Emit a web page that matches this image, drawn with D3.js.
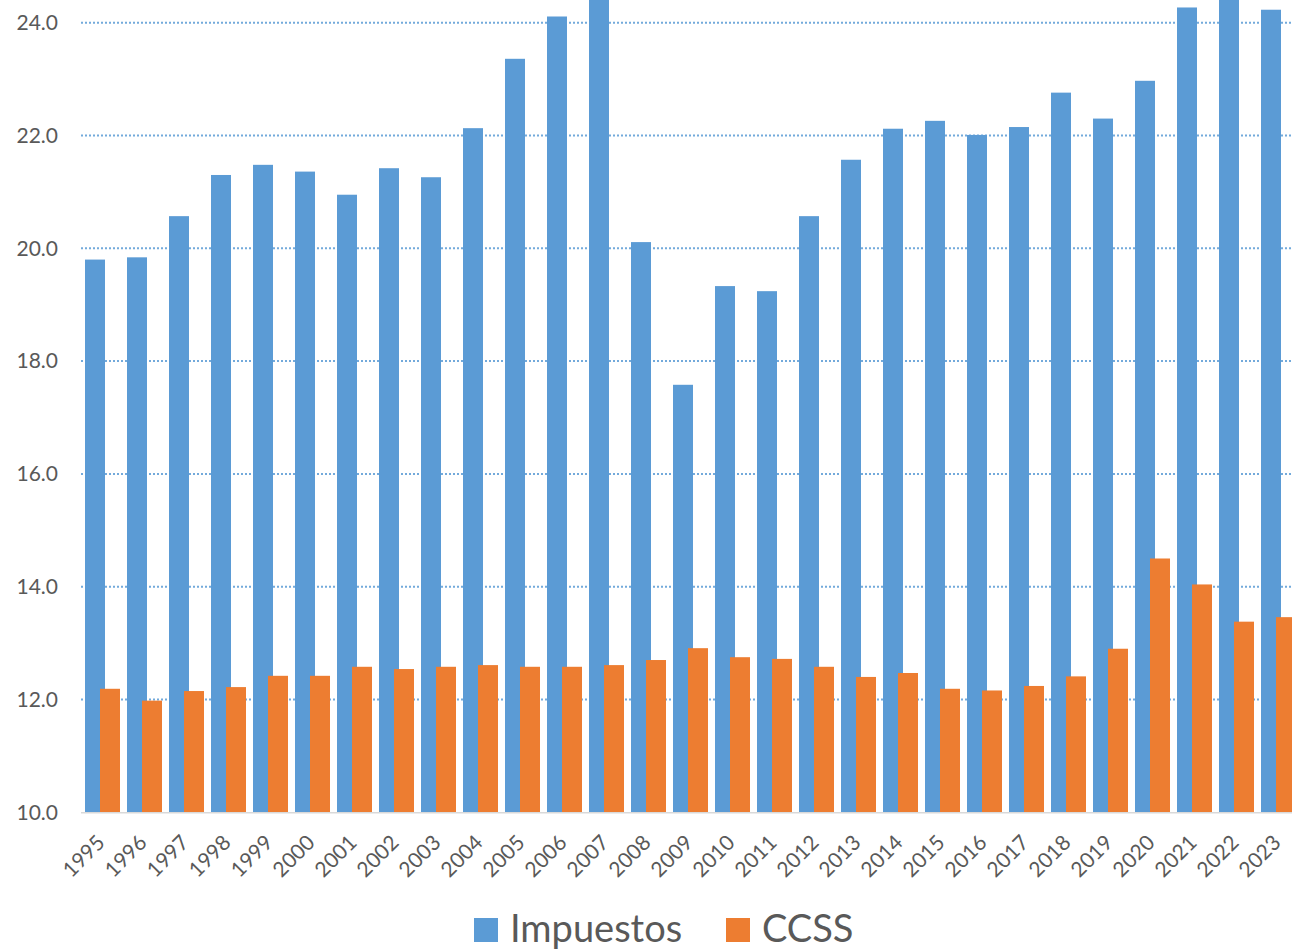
<!DOCTYPE html>
<html>
<head>
<meta charset="utf-8">
<script src="https://cdn.jsdelivr.net/npm/d3@7"></script>
<style>
  body { margin: 0; background: #fff; }
  svg { display: block; font-family: Lato, "Open Sans", sans-serif; }
</style>
</head>
<body>
<div id="chart"></div>
<script>
// datos
var anios = ["1995","1996","1997","1998","1999","2000","2001","2002","2003","2004","2005","2006","2007","2008","2009","2010","2011","2012","2013","2014","2015","2016","2017","2018","2019","2020","2021","2022","2023"];
var impuestos = [19.80,19.84,20.57,21.30,21.48,21.36,20.95,21.42,21.26,22.13,23.36,24.11,24.60,20.11,17.58,19.33,19.24,20.57,21.57,22.12,22.26,22.01,22.15,22.76,22.30,22.97,24.27,24.55,24.23];
var ccss = [12.19,11.98,12.15,12.22,12.42,12.42,12.58,12.54,12.58,12.61,12.58,12.58,12.61,12.70,12.91,12.75,12.72,12.58,12.40,12.47,12.19,12.16,12.24,12.41,12.90,14.50,14.04,13.38,13.46];
var series = ["Impuestos", "CCSS"];
var colores = ["#5B9BD5", "#ED7D31"];
var yTicks = [10, 12, 14, 16, 18, 20, 22, 24];

var width = 1292, height = 951;

var svg = d3.select("#chart").append("svg")
    .attr("width", width)
    .attr("height", height);

// escalas
var x = d3.scaleBand()
    .domain(anios)
    .range([81, 1299])
    .padding(0);

var x1 = d3.scalePoint()
    .domain(series)
    .range([4, 19]);

var barW = 20;

var y = d3.scaleLinear()
    .domain([10, 24])
    .range([812.3, 22.7]);

// lineas de cuadricula
svg.append("g")
  .selectAll("line")
  .data(yTicks.filter(function(d) { return d > 10; }))
  .enter().append("line")
    .attr("x1", 81)
    .attr("x2", width)
    .attr("y1", function(d) { return y(d); })
    .attr("y2", function(d) { return y(d); })
    .attr("stroke", "#5B9BD5")
    .attr("stroke-opacity", 0.85)
    .attr("stroke-width", 2)
    .attr("stroke-dasharray", "2,2");

// barras
var datos = anios.map(function(a, i) {
  return { anio: a, valores: [impuestos[i], ccss[i]] };
});

series.forEach(function(s, j) {
  svg.append("g")
    .selectAll("rect")
    .data(datos)
    .enter().append("rect")
      .attr("x", function(d) { return x(d.anio) + x1(s); })
      .attr("y", function(d) { return y(d.valores[j]); })
      .attr("width", barW)
      .attr("height", function(d) { return y(10) - y(d.valores[j]); })
      .attr("fill", colores[j]);
});

// eje x
svg.append("line")
  .attr("x1", 81).attr("x2", width)
  .attr("y1", y(10) + 0.5).attr("y2", y(10) + 0.5)
  .attr("stroke", "#D9D9D9")
  .attr("stroke-width", 1.5);

svg.append("g")
  .selectAll("text")
  .data(anios)
  .enter().append("text")
    .attr("text-anchor", "end")
    .attr("transform", function(d) {
      return "translate(" + (x(d) + x.bandwidth() / 2 + 4) + "," + 844 + ") rotate(-45)";
    })
    .attr("font-size", 21)
    .attr("fill", "#595959")
    .text(function(d) { return d; });

// eje y
var yAxis = d3.axisLeft(y)
    .tickValues(yTicks)
    .tickFormat(d3.format(".1f"))
    .tickSize(0)
    .tickPadding(0);

var gy = svg.append("g")
    .attr("transform", "translate(58,0)")
    .call(yAxis);
gy.select(".domain").remove();
gy.selectAll("text")
    .attr("font-size", 21)
    .attr("font-family", "Lato, sans-serif")
    .attr("fill", "#595959");

// leyenda
var leyenda = [
  { nombre: "Impuestos", color: colores[0], x: 474 },
  { nombre: "CCSS", color: colores[1], x: 726 }
];
var gl = svg.append("g");
leyenda.forEach(function(l) {
  gl.append("rect")
    .attr("x", l.x).attr("y", 918)
    .attr("width", 24).attr("height", 24)
    .attr("fill", l.color);
  gl.append("text")
    .attr("x", l.x + 36).attr("y", 942)
    .attr("font-size", 38)
    .attr("fill", "#595959")
    .text(l.nombre);
});
</script>
</body>
</html>
